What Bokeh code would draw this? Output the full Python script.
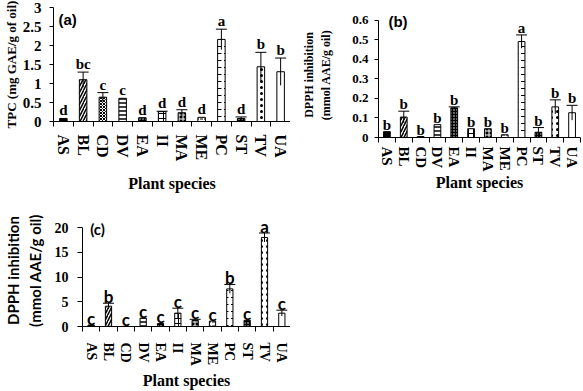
from bokeh.plotting import figure
from bokeh.models import ColumnDataSource, FixedTicker, Label
from bokeh.layouts import column, row
from bokeh.core.properties import value
from bokeh.embed import file_html
from bokeh.resources import INLINE

# ---------------- data ----------------
species = ["AS", "BL", "CD", "DV", "EA", "II", "MA", "ME", "PC", "ST", "TV", "UA"]

tpc = [0.08, 1.10, 0.64, 0.61, 0.10, 0.26, 0.23, 0.11, 2.16, 0.08, 1.44, 1.31]
tpc_err = [0.0, 0.20, 0.12, 0.0, 0.0, 0.01, 0.08, 0.0, 0.27, 0.04, 0.38, 0.36]
tpc_letters = ["d", "bc", "c", "c", "d", "d", "d", "d", "a", "d", "b", "b"]

dpph_b = [0.030, 0.105, 0.005, 0.066, 0.152, 0.045, 0.045, 0.014, 0.492, 0.027, 0.157, 0.127]
dpph_b_err = [0.0, 0.030, 0.0, 0.0, 0.005, 0.0, 0.0, 0.0, 0.034, 0.024, 0.036, 0.038]
dpph_b_letters = ["b", "b", "b", "b", "b", "b", "b", "b", "a", "b", "b", "b"]

dpph_c = [0.3, 4.1, 0.05, 1.7, 0.6, 2.7, 1.25, 1.1, 7.6, 1.25, 18.0, 2.7]
dpph_c_err = [0.0, 0.6, 0.0, 0.0, 0.0, 1.0, 0.2, 0.0, 0.9, 0.0, 0.9, 0.6]
dpph_c_letters = ["c", "b", "c", "c", "c", "c", "c", "c", "b", "c", "a", "c"]

ticks_a = [0, 0.5, 1, 1.5, 2, 2.5, 3]
tick_labels_a = ["0", "0.5", "1", "1.5", "2", "2.5", "3"]
ticks_b = [0, 0.1, 0.2, 0.3, 0.4, 0.5, 0.6]
tick_labels_b = ["0", "0.1", "0.2", "0.3", "0.4", "0.5", "0.6"]
ticks_c = [0, 5, 10, 15, 20]
tick_labels_c = ["0", "5", "10", "15", "20"]

# ---------------- styles ----------------
fills = ["black", "white", "white", "white", "black", "white", "black", "white", "white", "black", "white", "white"]
hatches = [" ", "/", "x", "-", ".", "+", "+", '"', '"', ".", ".", " "]
hcolors = ["black", "black", "black", "black", "white", "black", "white", "black", "black", "white", "black", "black"]
hscales = [6, 6, 3, 4, 3, 5, 4, 4, 7, 3, 6, 6]
hweights = [1, 1.5, 1, 1.5, 1, 1, 1, 1, 1, 1, 1, 1]

SERIF = "Liberation Serif"
ARIAL = "Liberation Sans"
CAL = "Lato"


def panel(width, height, bl, br, bt, bb, ymax, ytop, ticks, tick_labels, vals, errs, letters,
          ylabel, ylabel_font, ylabel_size, ylab_standoff, ytick_size, ytick_standoff, ytick_out,
          xtick_size, xtick_standoff, xlab_standoff, letter_font, letter_size, letter_off,
          tag, tag_font, tag_x, tag_y, bar_w):
    p = figure(width=width, height=height, x_range=(0, 12), y_range=(0, ytop),
               output_backend="svg", toolbar_location=None,
               min_border_left=bl, min_border_right=br, min_border_top=bt, min_border_bottom=bb)
    p.outline_line_color = None
    p.xgrid.visible = False
    p.ygrid.visible = False
    p.background_fill_color = "white"
    p.border_fill_color = "white"

    xs = [i + 0.5 for i in range(len(species))]
    src = ColumnDataSource(dict(x=xs, top=vals, fill=fills, hatch=hatches, hc=hcolors,
                                hs=hscales, hw=hweights))
    p.vbar(x="x", top="top", bottom=0, width=bar_w, source=src, fill_color="fill",
           line_color="black", line_width=1, hatch_pattern="hatch", hatch_color="hc",
           hatch_scale="hs", hatch_weight="hw")

    ex = [x for x, e in zip(xs, errs) if e > 0]
    elo = [v - e for v, e in zip(vals, errs) if e > 0]
    ehi = [v + e for v, e in zip(vals, errs) if e > 0]
    esrc = ColumnDataSource(dict(x=ex, lo=elo, hi=ehi))
    p.segment(x0="x", y0="lo", x1="x", y1="hi", source=esrc, line_color="black", line_width=1)
    p.scatter(x="x", y="hi", source=esrc, marker="dash", size=11, line_color="black", line_width=1)

    lsrc = ColumnDataSource(dict(x=xs, y=[v + e for v, e in zip(vals, errs)], t=letters))
    p.text(x="x", y="y", text="t", source=lsrc, text_align="center", text_baseline="alphabetic",
           y_offset=-letter_off, text_font=value(letter_font), text_font_size=f"{letter_size}px",
           text_font_style="bold", text_color="black")

    # x axis
    xa = p.xaxis[0]
    xa.ticker = FixedTicker(ticks=xs, minor_ticks=list(range(13)))
    xa.major_label_overrides = {x: s for x, s in zip(xs, species)}
    xa.major_label_orientation = "vertical"
    xa.major_tick_line_color = None
    xa.major_tick_out = 0
    xa.major_tick_in = 0
    xa.minor_tick_line_color = "black"
    xa.minor_tick_out = 5
    xa.minor_tick_in = 0
    xa.axis_line_color = "black"
    xa.major_label_text_font = SERIF
    xa.major_label_text_font_style = "bold"
    xa.major_label_text_font_size = f"{xtick_size}px"
    xa.major_label_text_color = "black"
    xa.major_label_standoff = xtick_standoff
    xa.axis_label = "Plant species"
    xa.axis_label_text_font = SERIF
    xa.axis_label_text_font_style = "bold"
    xa.axis_label_text_font_size = "16px"
    xa.axis_label_text_color = "black"
    xa.axis_label_standoff = xlab_standoff

    ya = p.yaxis[0]
    ya.ticker = FixedTicker(ticks=ticks)
    ya.bounds = (0, ymax)
    ya.major_label_overrides = {t: s for t, s in zip(ticks, tick_labels)}
    ya.major_tick_out = ytick_out
    ya.major_tick_in = 0
    ya.minor_tick_line_color = None
    ya.axis_line_color = "black"
    ya.major_tick_line_color = "black"
    ya.major_label_text_font = SERIF
    ya.major_label_text_font_style = "bold"
    ya.major_label_text_font_size = f"{ytick_size}px"
    ya.major_label_text_color = "black"
    ya.major_label_standoff = ytick_standoff
    ya.axis_label = ylabel
    ya.axis_label_text_font = ylabel_font
    ya.axis_label_text_font_style = "bold"
    ya.axis_label_text_font_size = f"{ylabel_size}px"
    ya.axis_label_text_color = "black"
    ya.axis_label_standoff = ylab_standoff

    p.add_layout(Label(x=tag_x, y=tag_y, text=tag, text_font=tag_font, text_font_style="bold",
                       text_font_size="15px", text_baseline="middle", text_align="left",
                       text_color="black"))
    return p


fa = panel(290, 195, 50, 0, 7, 72, 3, 3, ticks_a, tick_labels_a, tpc, tpc_err, tpc_letters,
           "TPC (mg GAE/g of oil)", SERIF, 13, 1, 15, 8, 4,
           16, 8, 11, SERIF, 15, 8, "(a)", ARIAL, 0.25, 2.69, 0.38)

fb = panel(293, 195, 88, 3, 12, 58, 0.6, 0.641, ticks_b, tick_labels_b, dpph_b, dpph_b_err,
           dpph_b_letters, "DPPH inhibition\n(mmol AAE/g oil)", SERIF, 12, 16, 13, 6, 4,
           15, 4, 0, SERIF, 15, 7, "(b)", ARIAL, 0.59, 0.595, 0.4)

fc = panel(290, 196, 72, 0, 19, 57, 20, 22.64, ticks_c, tick_labels_c, dpph_c, dpph_c_err,
           dpph_c_letters, "DPPH inhibition\n(mmol AAE/g oil)", CAL, 15, 8, 14, 9, 5,
           14, 11, 3, CAL, 17, 7, "(c)", CAL, 0.44, 19.8, 0.36)

layout = column(row(fa, column(fb)), fc)

open("out.html", "w").write(file_html(layout, INLINE))
